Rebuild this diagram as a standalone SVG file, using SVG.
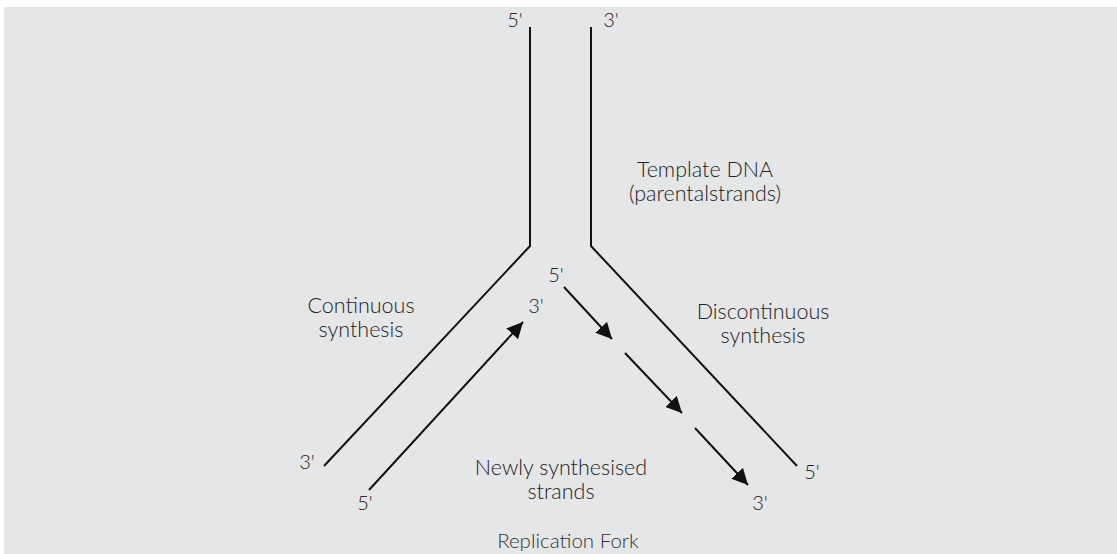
<svg xmlns="http://www.w3.org/2000/svg" width="1117" height="554" viewBox="0 0 1117 554">
<defs>
<style>
.t{font-family:Lato,"Noto Sans",sans-serif;font-size:21.5px;font-weight:300;fill:#222;text-anchor:middle}
.e{font-family:Lato,"Noto Sans",sans-serif;font-size:20px;font-weight:300;fill:#222;text-anchor:middle}
.s{stroke:#111;stroke-width:2;fill:none}
</style>
<marker id="ah" viewBox="0 0 10 10" refX="10" refY="5" markerWidth="8" markerHeight="8" markerUnits="strokeWidth" orient="auto">
<path d="M0,0 L10,5 L0,10 z" fill="#111"/>
</marker>
</defs>
<rect x="0" y="0" width="1117" height="554" fill="#fff"/>
<rect x="4" y="7" width="1113" height="547" fill="#e5e6e8"/>
<g id="connectors">
<path id="template-left" class="s" d="M530,27 L530,246 L324,466"/>
<path id="template-right" class="s" d="M591,27 L591,246 L797,466"/>
<line id="leading" class="s" x1="369" y1="490" x2="523" y2="322" marker-end="url(#ah)"/>
<line id="lag1" class="s" x1="564" y1="287" x2="612" y2="339" marker-end="url(#ah)"/>
<line id="lag2" class="s" x1="625" y1="353" x2="682" y2="413" marker-end="url(#ah)"/>
<line id="lag3" class="s" x1="695" y1="428" x2="748" y2="485" marker-end="url(#ah)"/>
</g>
<g id="end-labels">
<text class="e" x="515" y="27">5'</text>
<text class="e" x="611" y="27">3'</text>
<text class="e" x="556" y="282">5'</text>
<text class="e" x="536" y="313">3'</text>
<text class="e" x="307" y="469">3'</text>
<text class="e" x="365" y="510">5'</text>
<text class="e" x="812" y="479">5'</text>
<text class="e" x="760" y="510">3'</text>
</g>
<g id="template-label">
<text class="t" x="705" y="177">Template DNA</text>
<text class="t" x="705" y="201">(parentalstrands)</text>
</g>
<g id="continuous-label">
<text class="t" x="361" y="313">Continuous</text>
<text class="t" x="361" y="337">synthesis</text>
</g>
<g id="discontinuous-label">
<text class="t" x="763" y="319">Discontinuous</text>
<text class="t" x="763" y="343">synthesis</text>
</g>
<g id="new-strands-label">
<text class="t" x="561" y="475">Newly synthesised</text>
<text class="t" x="561" y="499">strands</text>
</g>
<g id="caption">
<text class="e" style="font-size:20.5px;fill:#333" x="568" y="548">Replication Fork</text>
</g>
</svg>
